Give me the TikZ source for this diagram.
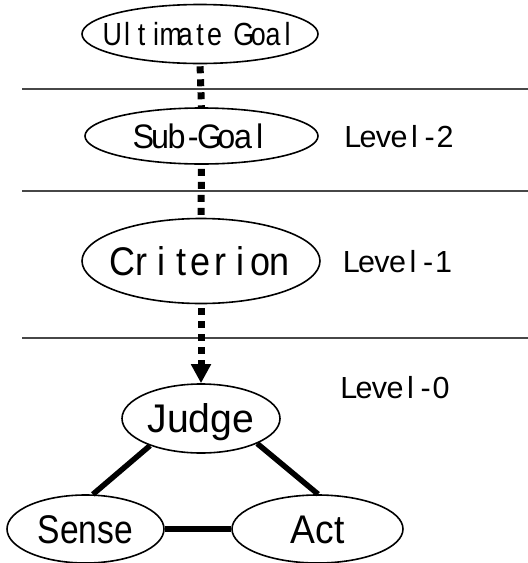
\documentclass[tikz,border=0pt]{standalone}
\usepackage{fontspec}
\setmainfont{Liberation Sans}
\usepackage{graphicx}
\usetikzlibrary{shapes.geometric,arrows.meta}

% Fixed-pitch lettering: every character sits in a cell of width #1,
% squeezed horizontally by #2.
\ExplSyntaxOn
\NewDocumentCommand\mono{mmm}{%
  \str_map_inline:nn {#3} {\makebox[#1][c]{\scalebox{#2}[1]{##1}}}%
}
\ExplSyntaxOff
% Zero-width wrapper so the ellipse size comes only from its minimum size
\newcommand\inell[1]{\makebox[0pt][c]{#1}}

\tikzset{
  ell/.style={ellipse, draw=black, line width=1.6pt, inner sep=0pt, text depth=0pt},
  sepline/.style={draw=black!72, line width=1.3pt},
  dotlink/.style={line width=7pt, dash pattern=on 7pt off 6pt},
  link/.style={line width=5.5pt},
  lvl/.style={inner sep=0pt, text height=22pt, text depth=0pt,
              font=\fontsize{30.5}{31}\selectfont},
}

\begin{document}
\begin{tikzpicture}[x=1pt,y=-1pt]
  \fill[white] (0,0) rectangle (528,563);
  \useasboundingbox (0,0) rectangle (528,563);

  % level separators
  \coordinate (s1w) at (22,89);  \coordinate (s1e) at (528,89);
  \coordinate (s2w) at (22,191); \coordinate (s2e) at (528,191);
  \coordinate (s3w) at (22,338); \coordinate (s3e) at (528,338);
  \draw[sepline] (s1w) -- (s1e);
  \draw[sepline] (s2w) -- (s2e);
  \draw[sepline] (s3w) -- (s3e);

  % goal hierarchy
  \node[ell, minimum width=236pt, minimum height=59pt, text height=23pt,
        font=\fontsize{32}{33}\selectfont] (ug) at (200,34)
        {\inell{\mono{14.6pt}{0.84}{Ultimate Goal}}};
  \node[ell, minimum width=233pt, minimum height=56pt, text height=24pt,
        font=\fontsize{34}{35}\selectfont] (sub) at (201.5,136)
        {\inell{\mono{16.6pt}{0.95}{Sub-Goal}}};
  \node[ell, minimum width=238pt, minimum height=85pt, text height=28pt,
        font=\fontsize{40}{41}\selectfont] (crit) at (201,261)
        {\inell{\mono{19.7pt}{0.9}{Criterion}}};

  % level-0 loop
  \node[ell, minimum width=158pt, minimum height=69pt, text height=28pt,
        font=\fontsize{40}{41}\selectfont] (judge) at (201,418.5)
        {\inell{\scalebox{0.98}[1]{Judge}}};
  \node[ell, minimum width=157pt, minimum height=68pt, text height=28pt,
        font=\fontsize{40}{41}\selectfont] (sense) at (85.5,529)
        {\inell{\scalebox{0.84}[1]{Sense}}};
  \node[ell, minimum width=171pt, minimum height=68pt, text height=28pt,
        font=\fontsize{40}{41}\selectfont] (act) at (317.5,529)
        {\inell{\scalebox{0.93}[1]{Act}}};

  % level labels
  \node[lvl] (l2) at (399,136) {\mono{15.4pt}{1.0}{Level-2}};
  \node[lvl] (l1) at (397.5,261) {\mono{15.4pt}{1.0}{Level-1}};
  \node[lvl] (l0) at (395,387) {\mono{15.4pt}{1.0}{Level-0}};

  % dotted links between levels
  \draw[dotlink, dash phase=11pt] (ug.south) -- (sub.north);
  \draw[dotlink, dash phase=9pt] (sub.south) -- (crit.north);
  \draw[dotlink, dash phase=9pt, -{Triangle[width=19pt,length=19pt]}]
        (crit.south) -- (judge.north);

  % solid links of the loop
  \draw[link] (judge.208.9) -- (sense.78.5);
  \draw[link] (judge.336) -- (act.89);
  \draw[link] (sense.east) -- (act.west);
\end{tikzpicture}
\end{document}
